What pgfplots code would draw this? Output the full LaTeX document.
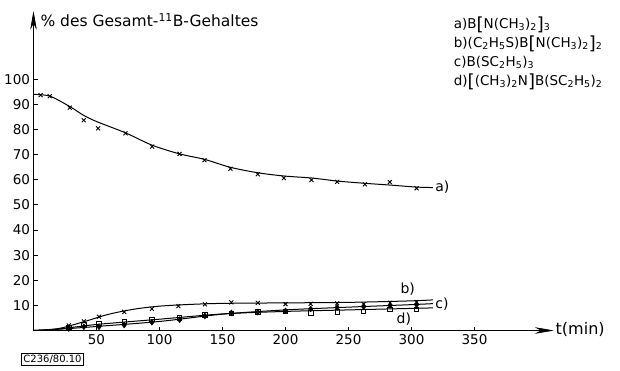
\documentclass[border=0pt]{standalone}
\usepackage{fontspec}
\setmainfont{DejaVu Sans}
\usepackage{pgfplots}
\pgfplotsset{compat=1.18}
\usetikzlibrary{arrows.meta}
\newcommand{\lbk}{\raisebox{-0.12em}{\fontsize{18}{18}\selectfont[}}
\newcommand{\rbk}{\raisebox{-0.12em}{\fontsize{18}{18}\selectfont]}}
\newcommand{\sbs}[1]{\textsubscript{#1}}
\begin{document}
\begin{tikzpicture}
\useasboundingbox (-33.5pt,-39.5pt) rectangle (586.5pt,330.5pt);
\begin{axis}[
  at={(0pt,0pt)}, anchor=south west,
  scale only axis,
  width=520pt, height=319pt,
  xmin=0, xmax=412.7, ymin=0, ymax=127,
  axis lines=left,
  axis line style={black, line width=1.3pt, -{Stealth[length=18pt,width=6pt]}},
  xtick={50,100,...,350},
  ytick={10,20,...,100},
  tick align=inside,
  major tick length=4pt,
  tick style={black, line width=1pt},
  /pgf/number format/assume math mode=true,
  tick label style={font=\fontsize{13.5}{15}\selectfont},
  clip=false,
]
% fitted curves
\addplot[black, line width=1pt, smooth, tension=0.5] coordinates {
 (0,94) (13,93.3) (29,89.1) (40,85.6) (51,83) (73,78.7) (94,73.8) (116,70.3)
 (136,68.1) (156,65) (178,62.8) (199,61.5) (221,60.7) (241,59.5) (263,58.6)
 (283,57.9) (304,57.1) (317,56.9)};
\addplot[black, line width=1pt, smooth, tension=0.5] coordinates {
 (0,0) (20,0.8) (40,3.5) (60,6.5) (80,8.5) (100,9.7) (125,10.4) (150,10.8)
 (200,11) (250,11.2) (300,11.8) (317,12.2)};
\addplot[black, line width=1pt, smooth, tension=0.5] coordinates {
 (0,0) (20,0.5) (50,1.6) (100,3.6) (150,6.5) (200,8.2) (250,9.3) (300,10.3) (317,10.7)};
\addplot[black, line width=1pt, smooth, tension=0.5] coordinates {
 (0,0) (20,0.6) (50,2.4) (100,4.5) (150,6.6) (200,7.6) (250,8.2) (300,8.8) (317,9.0)};
% data points
\addplot[black, only marks, mark=x, mark size=2.8pt, line width=0.9pt] coordinates {
 (5.6,93.7) (12.9,93.3) (28.8,88.7) (39.9,83.7) (51.3,80.5) (73,78.5) (94.2,73.2)
 (115.9,70.3) (135.7,67.8) (156.3,64.4) (178,62.2) (198.7,60.7) (220.6,59.9)
 (241,59.2) (263,58.2) (282.8,59.1) (304,56.6)};
\addplot[black, only marks, mark=x, mark size=2.8pt, line width=0.9pt] coordinates {
 (28,2.0) (40,3.6) (52,5.5) (72,7.4) (94,8.6) (115,9.7) (136,10.4) (157,11.2)
 (178,11.0) (200,10.5) (220,10.6) (241,10.8) (262,10.5) (283,11.0) (304,11.3)};
\addplot[black, only marks, mark=diamond*, mark size=3pt] coordinates {
 (28,0.8) (40,1.5) (52,1.5) (72,2.2) (94,3.3) (116,4.3) (136,5.8) (157,7.0)
 (178,7.3) (200,7.8) (220,8.6) (241,9.2) (262,9.5) (283,10.0) (304,10.3)};
\addplot[black, only marks, mark=square, mark size=2.2pt, line width=0.8pt] coordinates {
 (28,1.3) (40,2.2) (52,2.8) (72,3.7) (94,4.4) (116,5.0) (136,6.2) (157,6.8)
 (178,7.4) (200,7.6) (220,7.0) (241,7.4) (262,7.7) (283,8.4) (304,8.5)};
\end{axis}
% axis lines and ticks along the axis box
\draw[black, line width=1.3pt, -{Stealth[length=18pt,width=6pt]}] (0pt,0pt) -- (520pt,0pt);
\draw[black, line width=1.3pt, -{Stealth[length=17pt,width=6pt]}] (0pt,0pt) -- (0pt,319pt);
\foreach \t in {50,100,...,350} {\draw[black, line width=1pt] (1.26*\t pt,0pt) -- ++(0,4pt);}
\foreach \v in {10,20,...,100} {\draw[black, line width=1pt] (0pt,2.5118*\v pt) -- ++(4pt,0);}
% curve labels
\node[anchor=west, font=\fontsize{14}{15}\selectfont, inner sep=1pt] at (400.7pt,142.9pt) {a)};
\node[anchor=center, font=\fontsize{14}{15}\selectfont, inner sep=1pt] at (374.2pt,40.9pt) {b)};
\node[anchor=west, font=\fontsize{14}{15}\selectfont, inner sep=1pt] at (400.7pt,26.6pt) {c)};
\node[anchor=center, font=\fontsize{14}{15}\selectfont, inner sep=1pt] at (370.4pt,11.6pt) {d)};
% title and axis label
\node[anchor=west, font=\fontsize{15.5}{17}\selectfont, inner sep=0pt] at (6.9pt,310.2pt) {\%\ des Gesamt-\textsuperscript{11}B-Gehaltes};
\node[anchor=west, font=\fontsize{16}{17}\selectfont, inner sep=0pt] at (522pt,0.8pt) {t(min)};
% legend
\node[anchor=north west, align=left, font=\fontsize{13.5}{19}\selectfont, inner sep=0pt] at (420.2pt,314pt) {%
a)B\lbk N(CH\sbs{3})\sbs{2}\rbk\sbs{3}\\
b)(C\sbs{2}H\sbs{5}S)B\lbk N(CH\sbs{3})\sbs{2}\rbk\sbs{2}\\
c)B(SC\sbs{2}H\sbs{5})\sbs{3}\\
d)\lbk(CH\sbs{3})\sbs{2}N\rbk B(SC\sbs{2}H\sbs{5})\sbs{2}};
\node[draw, line width=0.6pt, anchor=center, font=\fontsize{10}{12}\selectfont, inner sep=2pt] at (19pt,-29pt) {C236/80.10};
\end{tikzpicture}
\end{document}
